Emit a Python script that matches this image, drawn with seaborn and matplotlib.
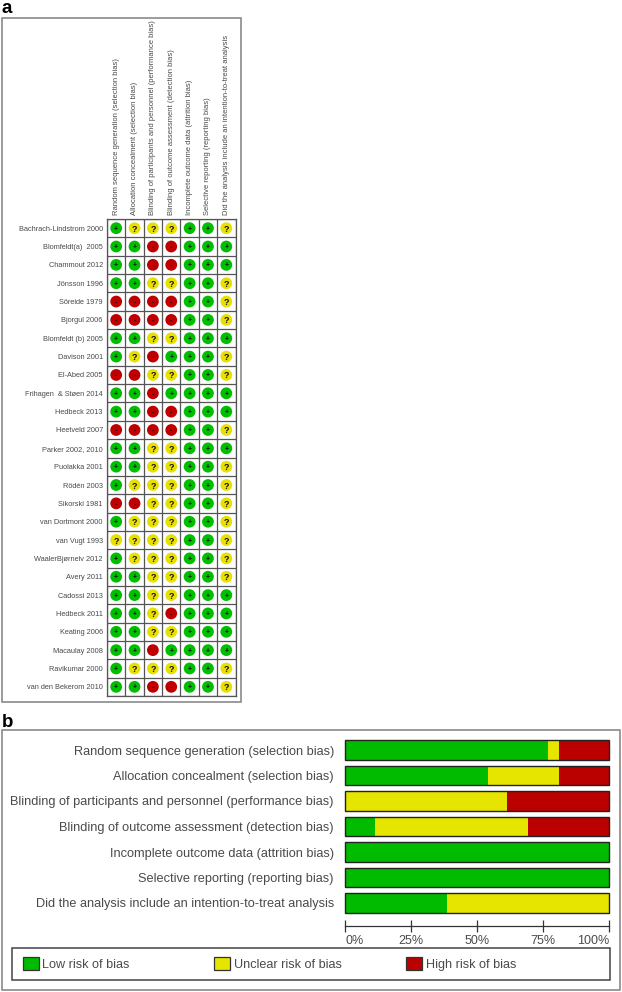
# RevMan style risk of bias figure
import pandas as pd
import matplotlib
matplotlib.use('Agg')
import matplotlib.pyplot as plt
from matplotlib.patches import Patch, Rectangle
import seaborn as sns

studies = ['Bachrach-Lindstrom 2000', 'Blomfeldt(a)  2005', 'Chammout 2012', 'Jönsson 1996',
           'Söreide 1979', 'Bjorgul 2006', 'Blomfeldt (b) 2005', 'Davison 2001', 'El-Abed 2005',
           'Frihagen  & Støen 2014', 'Hedbeck 2013', 'Heetveld 2007', 'Parker 2002, 2010',
           'Puolakka 2001', 'Rödén 2003', 'Sikorski 1981', 'van Dortmont 2000', 'van Vugt 1993',
           'WaalerBjørnelv 2012', 'Avery 2011', 'Cadossi 2013', 'Hedbeck 2011', 'Keating 2006',
           'Macaulay 2008', 'Ravikumar 2000', 'van den Bekerom 2010']

domains = ['Random sequence generation (selection bias)',
           'Allocation concealment (selection bias)',
           'Blinding of participants and personnel (performance bias)',
           'Blinding of outcome assessment (detection bias)',
           'Incomplete outcome data (attrition bias)',
           'Selective reporting (reporting bias)',
           'Did the analysis include an intention-to-treat analysis']

# one string per study, one sign per domain
judgements = ['+???++?', '++--+++', '++--+++', '++??++?', '----++?', '----++?',
              '++??+++', '+?-+++?', '--??++?', '++-++++', '++--+++', '----++?',
              '++??+++', '++??++?', '+???++?', '--??++?', '+???++?', '????++?',
              '+???++?', '++??++?', '++??+++', '++?-+++', '++??+++', '++-++++',
              '+???++?', '++--++?']

low_pct = [77, 54, 0, 11.5, 100, 100, 38.5]
unclear_pct = [4, 27, 61.5, 57.7, 0, 0, 61.5]
high_pct = [19, 19, 38.5, 30.8, 0, 0, 0]
pct_ticks = [0, 25, 50, 75, 100]
pct_labels = ['0%', '25%', '50%', '75%', '100%']
legend_labels = ['Low risk of bias', 'Unclear risk of bias', 'High risk of bias']

GREEN, YELLOW, RED = '#00BB00', '#E5E500', '#BB0000'
TEXT = '#4a4a4a'
W, H = 622, 992

sns.set_theme(style='white')
plt.rcParams['font.family'] = ['Liberation Sans', 'DejaVu Sans']

fig = plt.figure(figsize=(W / 100, H / 100), dpi=100)


def px_axes(x0, y0, x1, y1):
    # axes from pixel box, y measured from the top
    return fig.add_axes([x0 / W, 1 - y1 / H, (x1 - x0) / W, (y1 - y0) / H])


def frame(x0, y0, x1, y1, lw=1.2, color='#8a8a8a'):
    fig.add_artist(Rectangle((x0 / W, 1 - y1 / H), (x1 - x0) / W, (y1 - y0) / H, fill=False,
                             edgecolor=color, linewidth=lw, transform=fig.transFigure))


fig.text(2 / W, 1 - 13 / H, 'a', fontsize=13.5, fontweight='bold', color='black')
fig.text(2 / W, 1 - 727 / H, 'b', fontsize=13.5, fontweight='bold', color='black')
frame(2, 17.5, 241, 701.5)
frame(2, 729.5, 620, 990)

# Panel a: summary grid
rows = []
for study, signs in zip(studies, judgements):
    for domain, sign in zip(domains, signs):
        rows.append({'study': study, 'domain': domain, 'sign': sign})
grid_df = pd.DataFrame(rows)

ax = px_axes(107, 219, 235.5, 696)
sns.scatterplot(data=grid_df, x='domain', y='study', hue='sign',
                palette={'+': '#00BE00', '?': '#E8E000', '-': '#C00000'},
                s=72, linewidth=0, legend=False, ax=ax, zorder=3)
for _, row in grid_df.iterrows():
    ax.text(row['domain'], row['study'], row['sign'], ha='center', va='center_baseline',
            fontsize=6.5 if row['sign'] == '?' else 5, fontweight='bold', color='#111111', zorder=4)
ax.set_xlim(-0.5, 6.5)
ax.set_ylim(25.5, -0.5)
ax.set_xticks(range(7))
ax.set_xticklabels(domains, rotation=90, fontsize=5.5, color=TEXT)
ax.set_yticks(range(26))
ax.set_yticklabels(studies, fontsize=5.35, color=TEXT)
ax.xaxis.tick_top()
ax.tick_params(axis='both', length=0, pad=3)
ax.set_xticks([i - 0.5 for i in range(8)], minor=True)
ax.set_yticks([i - 0.5 for i in range(27)], minor=True)
ax.tick_params(which='minor', length=0)
ax.grid(which='minor', color='#555555', linewidth=0.9)
ax.set_xlabel('')
ax.set_ylabel('')
for s in ax.spines.values():
    s.set_color('#555555')
    s.set_linewidth(0.9)

# Panel b: stacked bars, drawn back to front
bar_df = pd.DataFrame({'domain': domains, 'low': low_pct, 'unclear': unclear_pct, 'high': high_pct})
bar_df['to_unclear'] = bar_df['low'] + bar_df['unclear']
bar_df['to_high'] = bar_df['to_unclear'] + bar_df['high']

bx = px_axes(345, 737.25, 609, 915.75)
for col, colour in [('to_high', RED), ('to_unclear', YELLOW), ('low', GREEN)]:
    sns.barplot(data=bar_df, x=col, y='domain', color=colour, saturation=1, width=0.78,
                linewidth=0, orient='h', ax=bx)
# dark outline round each full bar
for i in range(7):
    bx.add_patch(Rectangle((0, i - 0.39), 100, 0.78, fill=False, edgecolor='#222222',
                           linewidth=1.0, zorder=5, clip_on=False))
for name in ['top', 'left', 'right']:
    bx.spines[name].set_visible(False)
# moving the spine resets ticks, so do it before styling them
bx.spines['bottom'].set_position(('outward', 7.5))
bx.spines['bottom'].set_color('#333333')
bx.spines['bottom'].set_linewidth(0.9)
bx.set_xlim(0, 100)
bx.set_ylim(6.5, -0.5)
bx.set_xlabel('')
bx.set_ylabel('')
bx.tick_params(axis='y', length=0, pad=8, labelsize=9.2, labelcolor=TEXT)
bx.set_xticks(pct_ticks)
bx.set_xticklabels(pct_labels, fontsize=9, color=TEXT)
bx.tick_params(axis='x', bottom=True, length=8, width=0.9, color='#333333', direction='inout', pad=2)
for lab, ha in zip(bx.get_xticklabels(), ['left', 'center', 'center', 'center', 'right']):
    lab.set_ha(ha)

# legend box with three evenly spaced entries
frame(12, 948, 610, 980, lw=1.1, color='#444444')
for colour, label, x in zip([GREEN, YELLOW, RED], legend_labels, [22.5, 214, 406]):
    fig.legend(handles=[Patch(facecolor=colour, edgecolor='#333333', linewidth=0.9, label=label)],
               loc='center left', bbox_to_anchor=(x / W, 1 - 964 / H), bbox_transform=fig.transFigure,
               fontsize=9.1, labelcolor=TEXT, handlelength=1.3, handleheight=1.25, handletextpad=0.28,
               borderaxespad=0, borderpad=0, frameon=False)

fig.savefig('out.png', dpi=100)
